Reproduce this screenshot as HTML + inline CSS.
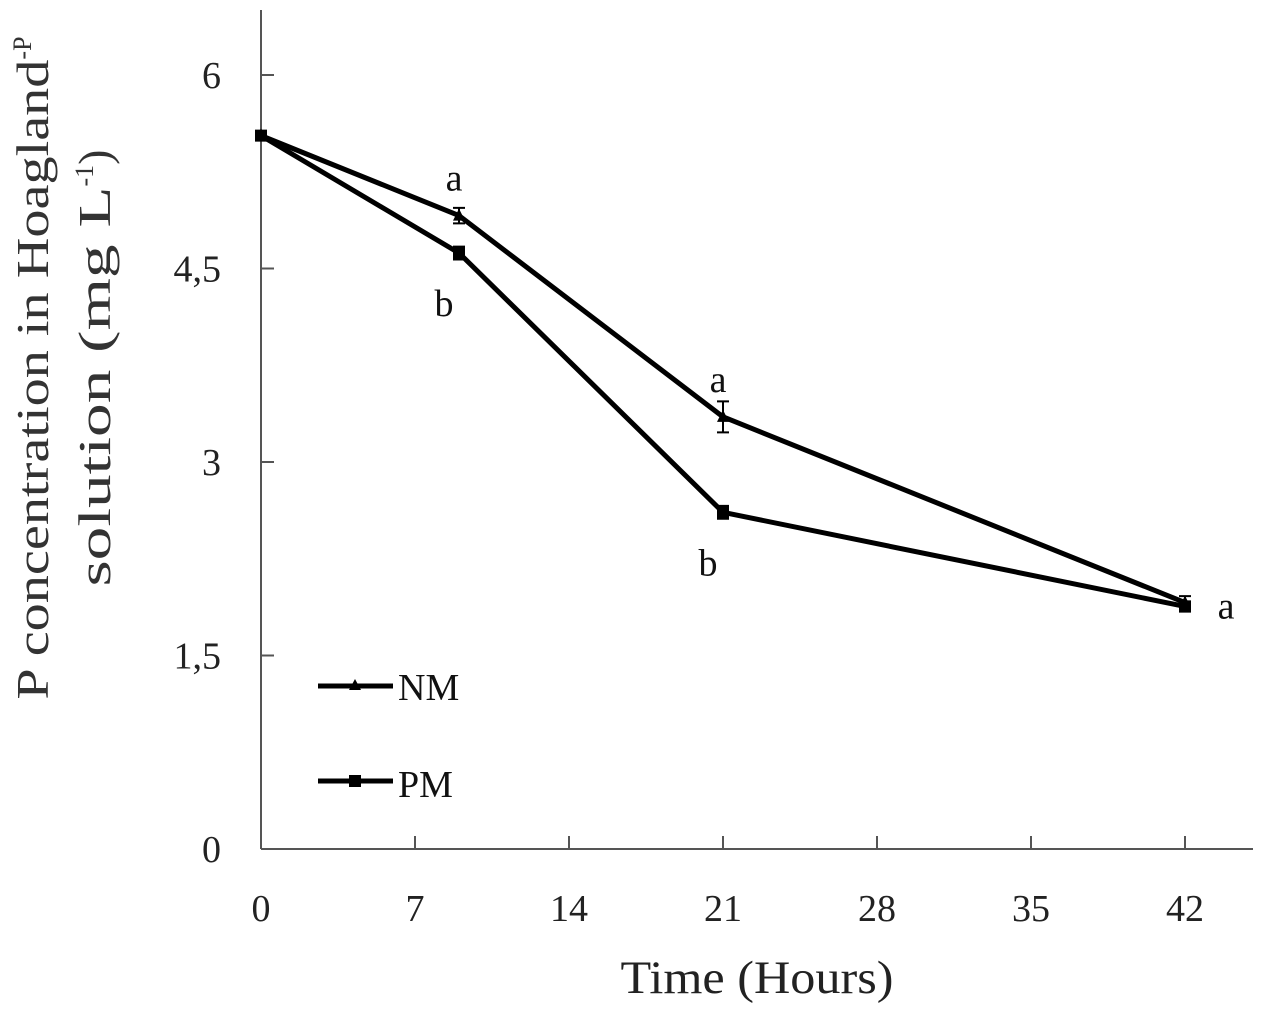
<!DOCTYPE html>
<html><head><meta charset="utf-8"><style>
html,body{margin:0;padding:0;background:#fff;}
svg{display:block;font-family:"Liberation Serif",serif;}
</style></head><body>
<svg id="chart" width="1267" height="1017" viewBox="0 0 1267 1017" xmlns="http://www.w3.org/2000/svg">
<g id="axes"></g>
<g id="series"></g>
<text x="757" y="993" font-size="47" text-anchor="middle" textLength="273" lengthAdjust="spacingAndGlyphs" fill="#222">Time (Hours)</text>
<text transform="translate(48,368) rotate(-90)" font-size="46" text-anchor="middle" fill="#333"><tspan textLength="640" lengthAdjust="spacingAndGlyphs">P concentration  in Hoagland</tspan><tspan font-size="26" dy="-17">-P</tspan></text>
<text transform="translate(110,368) rotate(-90)" font-size="46" text-anchor="middle" fill="#333"><tspan textLength="400" lengthAdjust="spacingAndGlyphs">solution   (mg L</tspan><tspan font-size="26" dy="-17">-1</tspan><tspan dy="17">)</tspan></text>
<g>
<line x1="318" y1="686" x2="393" y2="686" stroke="#000" stroke-width="5"/>
<polygon points="355,679 349,690 361,690" fill="#000"/>
<text x="398" y="700" font-size="38" fill="#111">NM</text>
<line x1="318" y1="781" x2="393" y2="781" stroke="#000" stroke-width="5"/>
<rect x="349" y="775" width="12" height="12" fill="#000"/>
<text x="398" y="797" font-size="38" fill="#111">PM</text>
</g>
</svg>
<script>
const hours = [0, 9, 21, 42];
const nmValues = [5.53, 4.91, 3.35, 1.91];
const nmErrors = [0.03, 0.06, 0.12, 0.05];
const pmValues = [5.53, 4.62, 2.61, 1.88];
const pmErrors = [0.03, 0.05, 0.05, 0.04];
const xTicks = [0, 7, 14, 21, 28, 35, 42];
const yTicks = [0, 1.5, 3, 4.5, 6];
const yTickLabels = ["0", "1,5", "3", "4,5", "6"];
const nmLetters = ["", "a", "a", ""];
const pmLetters = ["", "b", "b", "a"];

const NS = "http://www.w3.org/2000/svg";
const X0 = 261, XPX = 22, Y0 = 849, YPX = 129;
const xs = v => X0 + v * XPX;
const ys = v => Y0 - v * YPX;
function mk(tag, attrs, parent) {
  const e = document.createElementNS(NS, tag);
  for (const k in attrs) e.setAttribute(k, attrs[k]);
  parent.appendChild(e);
  return e;
}
const axes = document.getElementById('axes');
const series = document.getElementById('series');
let el = mk('line', {x1: X0, y1: 10, x2: X0, y2: Y0, stroke: '#555', 'stroke-width': 2}, axes);


el = mk('line', {x1: X0, y1: Y0, x2: 1253, y2: Y0, stroke: '#555', 'stroke-width': 2}, axes);


xTicks.forEach(t => {
  if (t > 0) {
    const tk = mk('line', {x1: xs(t), y1: Y0, x2: xs(t), y2: Y0 - 13, stroke: '#555', 'stroke-width': 2}, axes);
    
    
  }
  const tx = mk('text', {x: xs(t), y: 921, 'font-size': 38, 'text-anchor': 'middle', fill: '#222'}, axes);
  tx.textContent = String(t);
  
  
});
yTicks.forEach((t, i) => {
  if (t > 0) {
    const tk = mk('line', {x1: X0, y1: ys(t), x2: X0 + 13, y2: ys(t), stroke: '#555', 'stroke-width': 2}, axes);
    
    
  }
  const tx = mk('text', {x: 221, y: ys(t) + 13, 'font-size': 38, 'text-anchor': 'end', fill: '#222'}, axes);
  tx.textContent = yTickLabels[i];
  
  
});
function drawSeries(vals, errs, name, marker) {
  const pts = hours.map((h, i) => xs(h) + ',' + ys(vals[i])).join(' ');
  const pl = mk('polyline', {points: pts, fill: 'none', stroke: '#000', 'stroke-width': 5, 'stroke-linejoin': 'round'}, series);
  
  
  hours.forEach((h, i) => {
    const x = xs(h), y = ys(vals[i]);
    const eb = mk('path', {d: `M${x},${ys(vals[i]+errs[i])}V${ys(vals[i]-errs[i])}M${x-6},${ys(vals[i]+errs[i])}H${x+6}M${x-6},${ys(vals[i]-errs[i])}H${x+6}`, stroke: '#000', 'stroke-width': 2, fill: 'none'}, series);
    
    
    let m;
    if (marker === 'tri') m = mk('polygon', {points: `${x},${y-7} ${x-6},${y+5} ${x+6},${y+5}`, fill: '#000'}, series);
    else m = mk('rect', {x: x - 6, y: y - 6, width: 12, height: 12, fill: '#000'}, series);
    
    
  });
}
drawSeries(nmValues, nmErrors, 'nm', 'tri');
drawSeries(pmValues, pmErrors, 'pm', 'sq');
hours.forEach((h, i) => {
  if (nmLetters[i]) {
    const t = mk('text', {x: xs(h) - 5, y: ys(nmValues[i]) - 25, 'font-size': 38, 'text-anchor': 'middle', fill: '#111'}, series);
    t.textContent = nmLetters[i];
    
    
  }
  if (pmLetters[i]) {
    const last = i === hours.length - 1;
    const t = mk('text', {x: last ? xs(h) + 41 : xs(h) - 15, y: last ? ys(pmValues[i]) + 12 : ys(pmValues[i]) + 63, 'font-size': 38, 'text-anchor': 'middle', fill: '#111'}, series);
    t.textContent = pmLetters[i];
    
    
  }
});
</script>
</body></html>
